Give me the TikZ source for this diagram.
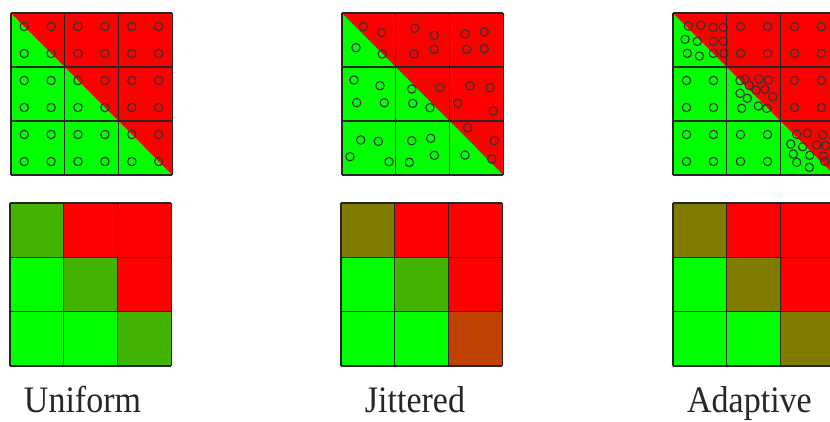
\documentclass[tikz,border=0pt]{standalone}
\usepackage{fontspec}
\setmainfont{Liberation Serif}
\definecolor{rd}{RGB}{255,0,0}
\definecolor{gr}{RGB}{0,255,0}
\definecolor{dg}{RGB}{64,180,0}
\definecolor{ol}{RGB}{128,124,0}
\definecolor{br}{RGB}{192,66,0}
\begin{document}
\begin{tikzpicture}[x=1pt,y=-1pt,
  gridline/.style={black!85, line width=1.2pt},
  smp/.style={draw=black!80, line width=1.1pt},
  lbl/.style={font=\fontsize{34}{40}\selectfont, text=black!85, anchor=base, inner sep=0pt}]
\useasboundingbox (0,0) rectangle (830,421);
\fill[white] (0,0) rectangle (830,421);
\clip (0,0) rectangle (830,421);

% ---------- top sampling grids ----------
\foreach \xo in {11,342,673} {
  \begin{scope}[shift={(\xo,13)}]
    \fill[gr] (0,0) rectangle (161.4,162);
    \fill[rd] (0,0) -- (161.4,0) -- (161.4,162) -- cycle;
  \end{scope}
}

% uniform samples (Uniform panel)
\foreach \i in {0,...,5} {
  \foreach \j in {0,...,5} {
    \draw[smp] (11+13.2+\i*26.9, 13+13.5+\j*27) circle[radius=4.2];
  }
}

% jittered samples
\foreach \p in {(363.3,26.7),(381.7,32.7),(356,47.7),(382.3,54),
  (415,28.3),(434.3,35.3),(434.3,49.3),(414,54),
  (465,34),(484.3,32),(466.7,49.3),(484.3,48.7),
  (354,80),(380,85.7),(356.7,102.7),(384.3,102.7),
  (411.7,89),(440,87.7),(412.7,103.3),(430,107.7),
  (470,85.7),(490,87.7),(457.7,103.3),(493.3,111),
  (360.7,140),(378.3,141.3),(350,156.7),(389,161.7),
  (411.7,140.7),(430.7,138.3),(434.3,155.3),(409.3,162.3),
  (467.7,127.7),(494.3,140.7),(465,155),(491.7,159)} {
  \draw[smp] \p circle[radius=4.2];
}

% adaptive samples: non-diagonal cells, 2x2 per cell
\foreach \cx/\cy in {1/0,2/0,0/1,2/1,0/2,1/2} {
  \foreach \a in {0,1} {
    \foreach \b in {0,1} {
      \draw[smp] (673+\cx*54+13.5+\a*27, 13+\cy*54+13.5+\b*27) circle[radius=4.2];
    }
  }
}
% adaptive samples: refined diagonal cells
\foreach \p in {(688.3,26),(700.7,25.3),(713.3,27.3),(723.3,27.3),
  (685,39.3),(697.3,41.3),(713.3,41.3),(723.3,41.3),
  (687.3,53.3),(699.3,56),(713.3,53.3),(724,53.3),
  (745,79),(759,79),(768.3,80),(740,80.7),(756,90),(765,89.3),
  (740,93.3),(747.3,98.3),(772.7,96.7),(741.7,108.3),(758.3,106),(766.7,108.3),(749.3,85.5),
  (796.7,134.3),(807.3,133.3),(822.7,135),(790.7,144),(802.7,146.7),(816.7,145),
  (825.7,145.7),(793.3,154),(809.7,155.3),(823.3,156),(796.7,162.3),(809.3,167.3),(824.7,161.3)} {
  \draw[smp] \p circle[radius=4.2];
}

% top grid lines
\foreach \xo in {11,342,673} {
  \begin{scope}[shift={(\xo,13)}]
    \foreach \k in {0,1,2,3} {
      \draw[gridline] (\k*53.8,0) -- (\k*53.8,162);
      \draw[gridline] (0,\k*54) -- (161.4,\k*54);
    }
  \end{scope}
}

% ---------- bottom result grids ----------
\foreach \xo/\cols in {10/{dg,rd,rd,gr,dg,rd,gr,gr,dg},
                      341/{ol,rd,rd,gr,dg,rd,gr,gr,br},
                      673/{ol,rd,rd,gr,ol,rd,gr,gr,ol}} {
  \begin{scope}[shift={(\xo,203)}]
    \foreach \col [count=\n from 0] in \cols {
      \pgfmathtruncatemacro\rr{floor(\n/3)}
      \pgfmathtruncatemacro\cc{mod(\n,3)}
      \fill[\col] (\cc*53.8,\rr*54.3) rectangle +(53.8,54.3);
    }
    \foreach \k in {0,1,2,3} {
      \draw[gridline] (\k*53.8,0) -- (\k*53.8,163);
      \draw[gridline] (0,\k*54.3) -- (161.4,\k*54.3);
    }
  \end{scope}
}

% ---------- labels ----------
\node[lbl] (uniform)  at (82.5,412) {\scalebox{1}[1.1]{Uniform}};
\node[lbl] (jittered) at (415,412)  {\scalebox{1}[1.1]{Jittered}};
\node[lbl] (adaptive) at (749.5,412) {\scalebox{1}[1.1]{Adaptive}};
\end{tikzpicture}
\end{document}
